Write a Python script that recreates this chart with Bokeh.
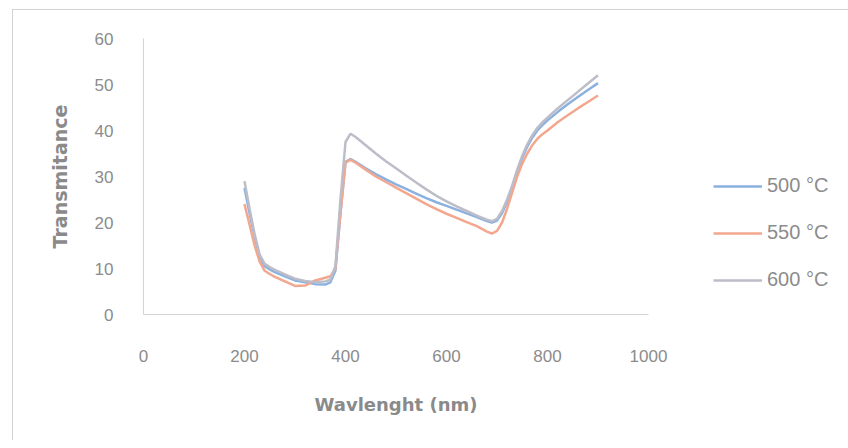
from bokeh.plotting import figure
from bokeh.models import Range1d, Legend, LegendItem, FixedTicker
from bokeh.embed import file_html
from bokeh.resources import INLINE

wavelength = [200, 210, 220, 230, 240, 250, 260, 280, 300, 320, 340, 360, 370, 380, 390,
              400, 410, 420, 440, 460, 480, 500, 520, 540, 560, 580, 600, 620, 640, 660,
              680, 690, 700, 710, 720, 730, 740, 750, 760, 770, 780, 790, 800, 820, 840,
              860, 880, 900]

t500 = [27.5, 22, 17, 12.5, 10.5, 9.8, 9.2, 8.3, 7.4, 7.0, 6.6, 6.5, 7.0, 9.5, 22,
        33.2, 33.8, 33.2, 31.8, 30.5, 29.4, 28.3, 27.3, 26.3, 25.3, 24.4, 23.6, 22.8, 22.0, 21.2,
        20.3, 20.0, 20.4, 22, 24.5, 27.5, 31, 34, 36.5, 38.5, 40, 41.2, 42.2, 44, 45.7,
        47.3, 48.8, 50.3]

t550 = [24, 19.5, 15, 11.5, 9.5, 8.8, 8.2, 7.2, 6.2, 6.3, 7.4, 8.0, 8.3, 10, 22,
        33, 33.6, 33, 31.5, 30, 28.8, 27.6, 26.4, 25.2, 24.0, 22.9, 21.9, 21.0, 20.1, 19.2,
        18.0, 17.6, 18.2, 20, 23, 26.5, 30, 32.8, 35, 36.8, 38.2, 39.2, 40, 41.8, 43.3,
        44.8, 46.2, 47.6]

t600 = [29, 23, 17.5, 13, 11, 10.3, 9.7, 8.7, 7.8, 7.3, 7.0, 7.2, 7.6, 10.5, 25,
        37.5, 39.3, 38.6, 36.8, 35, 33.3, 31.8, 30.2, 28.7, 27.2, 25.8, 24.6, 23.5, 22.5, 21.5,
        20.6, 20.3, 20.8, 22.5, 25, 28, 31.5, 34.5, 37, 39, 40.6, 41.8, 42.8, 44.8, 46.6,
        48.4, 50.2, 52]

series_labels = ["500 °C", "550 °C", "600 °C"]
x_ticks = [0, 200, 400, 600, 800, 1000]
y_ticks = [0, 10, 20, 30, 40, 50, 60]

colors = ["#8ab1e0", "#f3a78e", "#bdbdc9"]

p = figure(frame_width=505, frame_height=276, output_backend="svg", toolbar_location=None,
           x_range=Range1d(0, 1000), y_range=Range1d(0, 60),
           min_border_left=130, min_border_right=192, min_border_top=28, min_border_bottom=126)
p.margin = (9, 0, 0, 12)
p.styles = {"border-top": "1px solid #d2d2d2", "border-left": "1px solid #d2d2d2"}

p.outline_line_color = None
p.background_fill_color = "white"
p.border_fill_color = "white"
p.xgrid.visible = False
p.ygrid.visible = False

renderers = []
for ys, c in zip([t500, t550, t600], colors):
    r = p.line(wavelength, ys, line_color=c, line_width=2.5)
    renderers.append(r)

for ax in (p.xaxis[0], p.yaxis[0]):
    ax.axis_line_color = "#d4d4d4"
    ax.axis_line_width = 1
    ax.major_tick_line_color = None
    ax.minor_tick_line_color = None
    ax.major_label_text_color = "#8c8c8c"
    ax.major_label_text_font = "Liberation Sans"
    ax.major_label_text_font_size = "17px"
    ax.axis_label_text_color = "#8a8a8a"
    ax.axis_label_text_font = "DejaVu Sans"
    ax.axis_label_text_font_style = "bold"

p.xaxis.axis_label_text_font_size = "18px"
p.yaxis.axis_label_text_font_size = "19px"
p.xaxis.ticker = FixedTicker(ticks=x_ticks)
p.yaxis.ticker = FixedTicker(ticks=y_ticks)
p.xaxis.axis_label = "Wavlenght (nm)"
p.yaxis.axis_label = "Transmitance"
p.xaxis.major_label_standoff = 29
p.yaxis.major_label_standoff = 24
p.xaxis.axis_label_standoff = 29
p.yaxis.axis_label_standoff = 21

legend = Legend(items=[LegendItem(label=l, renderers=[r]) for l, r in zip(series_labels, renderers)],
                location=(65, 23), orientation="vertical",
                glyph_width=49, glyph_height=20, spacing=24, label_standoff=5,
                padding=0, margin=0, border_line_color=None, background_fill_alpha=0,
                label_text_color="#8c8c8c", label_text_font="Liberation Sans",
                label_text_font_size="20px")
p.add_layout(legend, "right")

open("out.html", "w").write(file_html(p, INLINE))
